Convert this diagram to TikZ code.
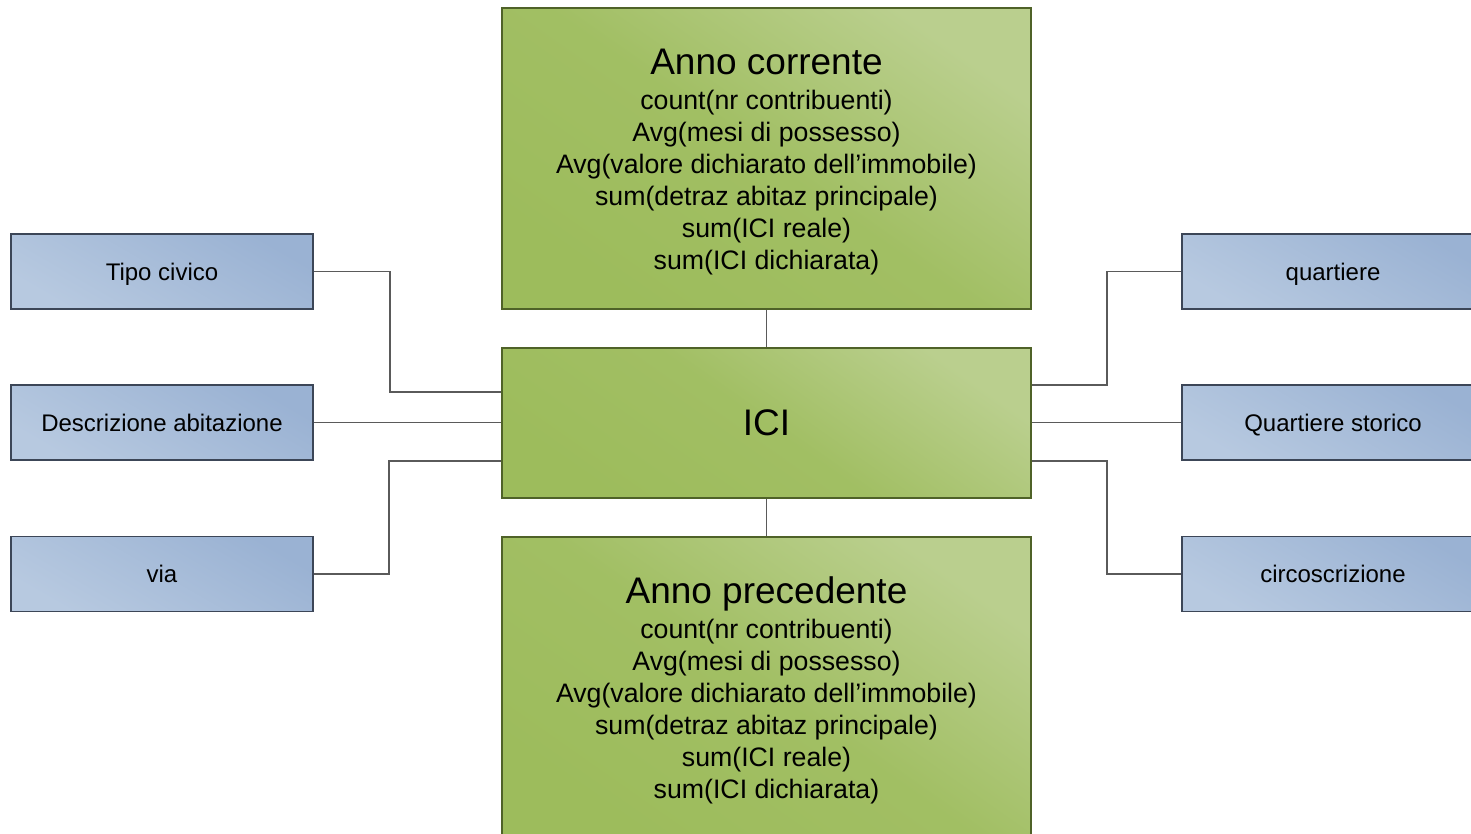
\documentclass[tikz,border=0pt]{standalone}
\usepackage{fontspec}
\setmainfont{Liberation Sans}
\definecolor{greenDark}{HTML}{9DBC5C}
\definecolor{greenLight}{HTML}{BACF8E}
\definecolor{greenEdge}{HTML}{4F6228}
\definecolor{blueDark}{HTML}{9AB2D3}
\definecolor{blueLight}{HTML}{B7C9E0}
\definecolor{blueEdge}{HTML}{3C4657}
\definecolor{wire}{HTML}{5A5A5A}
\tikzset{
  factbox/.style={draw=greenEdge, line width=1.2pt, shading=axis,
    top color=greenLight, bottom color=greenDark, middle color=greenDark!85!greenLight,
    shading angle=-35, align=center, inner sep=0pt,
    font=\fontsize{26.7}{32}\selectfont},
  dimbox/.style={draw=blueEdge, line width=1.2pt, shading=axis,
    top color=blueDark, bottom color=blueLight, shading angle=-30,
    minimum width=302pt, minimum height=75pt, inner sep=0pt,
    text height=17pt, text depth=0pt,
    font=\fontsize{24}{28}\selectfont},
  link/.style={draw=wire, line width=1.3pt},
  titlefont/.style={font=\fontsize{37}{40}\selectfont}
}
\begin{document}
\begin{tikzpicture}[x=1pt, y=-1pt]
\useasboundingbox (0,0) rectangle (1471,834);
\clip (0,0) rectangle (1471,834);

% fact tables
\node[factbox, minimum width=529pt, minimum height=301pt] (cur) at (766.5,158.5)
  {\rule{0pt}{33pt}{\fontsize{37}{40}\selectfont Anno corrente}\\[3pt]
   count(nr contribuenti)\\
   Avg(mesi di possesso)\\
   Avg(valore dichiarato dell’immobile)\\
   sum(detraz abitaz principale)\\
   sum(ICI reale)\\
   sum(ICI dichiarata)};
\node[factbox, minimum width=529pt, minimum height=150pt, titlefont] (ici) at (766.5,423) {ICI};
\node[factbox, minimum width=529pt, minimum height=301pt] (prev) at (766.5,687.5)
  {\rule{0pt}{33pt}{\fontsize{37}{40}\selectfont Anno precedente}\\[3pt]
   count(nr contribuenti)\\
   Avg(mesi di possesso)\\
   Avg(valore dichiarato dell’immobile)\\
   sum(detraz abitaz principale)\\
   sum(ICI reale)\\
   sum(ICI dichiarata)};

% dimensions, left
\node[dimbox] (tipo) at (162,271.5) {Tipo civico};
\node[dimbox] (descr) at (162,422.5) {Descrizione abitazione};
\node[dimbox] (via) at (162,574) {via};
% dimensions, right
\node[dimbox] (quart) at (1333,271.5) {quartiere};
\node[dimbox] (qstor) at (1333,422.5) {Quartiere storico};
\node[dimbox] (circ) at (1333,574) {circoscrizione};

% connectors
\draw[link] (cur.south) -- (ici.north);
\draw[link] (ici.south) -- (prev.north);
\draw[link] (tipo.east) -| (390,392) -- ([yshift=31pt]ici.west);
\draw[link] (descr.east) -- (ici.west |- descr.east);
\draw[link] (via.east) -| (389,461) -- ([yshift=-38pt]ici.west);
\draw[link] (quart.west) -| (1107,385) -- ([yshift=38pt]ici.east);
\draw[link] (qstor.west) -- (ici.east |- qstor.west);
\draw[link] (circ.west) -| (1107,461) -- ([yshift=-38pt]ici.east);
\end{tikzpicture}
\end{document}
